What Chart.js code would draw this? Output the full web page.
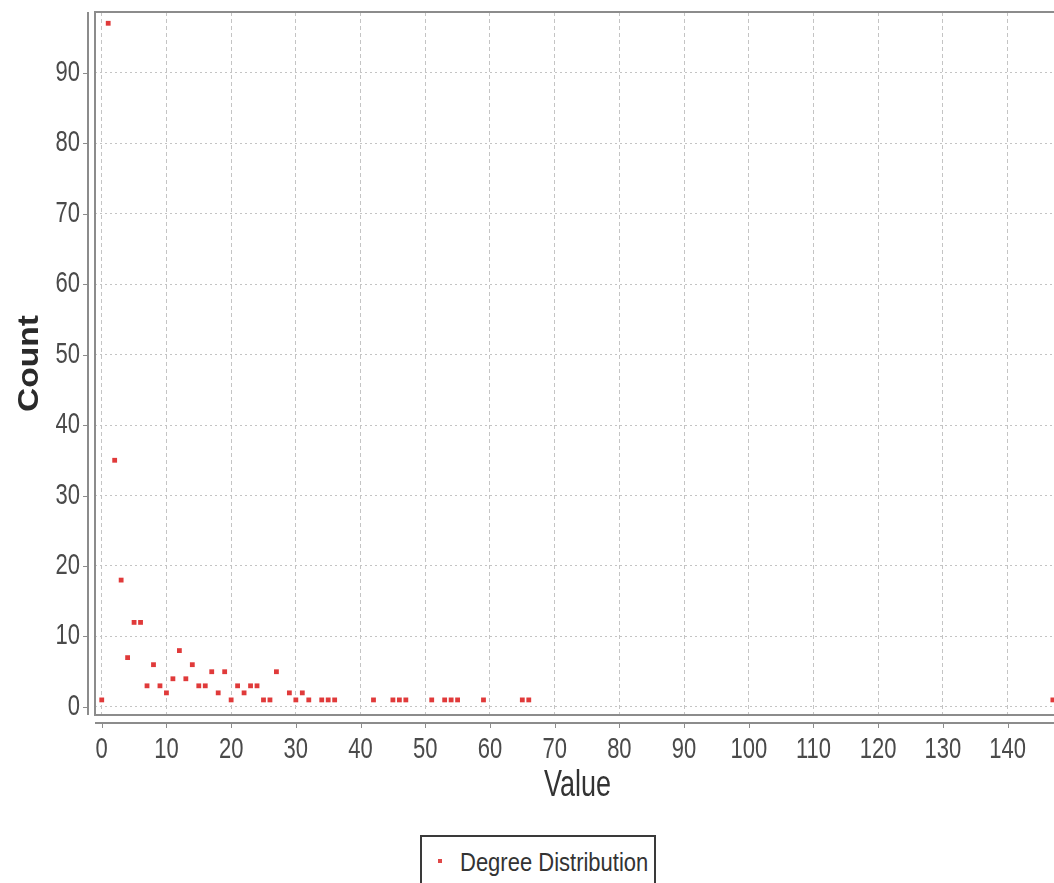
<!DOCTYPE html>
<html>
<head>
<meta charset="utf-8">
<script src="https://cdn.jsdelivr.net/npm/chart.js@4"></script>
<style>
	html, body { margin: 0; padding: 0; background: #fff; overflow: hidden; }
	#wrap { position: relative; width: 1054px; height: 883px; overflow: hidden; }
	#degreeChart { position: absolute; left: 0; top: 0; }
	#legend {
		position: absolute; left: 420px; top: 835px; width: 236px; height: 60px;
		border: 2px solid #3a3a3a; background: #fff; box-sizing: border-box;
		font-family: "Liberation Sans", Arial, sans-serif;
		font-size: 22px; color: #333;
	}
	#legend .mark { position: absolute; left: 16px; top: 22px; width: 4px; height: 4px; background: #e04848; }
	#legend .label {
		position: absolute; left: 38px; top: 11px; white-space: nowrap;
		transform: scaleY(1.15); transform-origin: 0 0;
	}
</style>
</head>
<body>
<div id="wrap">
	<canvas id="degreeChart" width="1080" height="883"></canvas>
	<div id="legend"><span class="mark"></span><span class="label">Degree Distribution</span></div>
</div>
<script>
const degreeValues = [0, 1, 2, 3, 4, 5, 6, 7, 8, 9, 10, 11, 12, 13, 14, 15, 16, 17, 18, 19, 20,
	21, 22, 23, 24, 25, 26, 27, 29, 30, 31, 32, 34, 35, 36, 42, 45, 46, 47, 51, 53, 54, 55,
	59, 65, 66, 147];
const degreeCounts = [1, 97, 35, 18, 7, 12, 12, 3, 6, 3, 2, 4, 8, 4, 6, 3, 3, 5, 2, 5, 1,
	3, 2, 3, 3, 1, 1, 5, 2, 1, 2, 1, 1, 1, 1, 1, 1, 1, 1, 1, 1, 1, 1,
	1, 1, 1, 1];
const xTickValues = [0, 10, 20, 30, 40, 50, 60, 70, 80, 90, 100, 110, 120, 130, 140];
const yTickValues = [0, 10, 20, 30, 40, 50, 60, 70, 80, 90];

const sansFamily = "'Liberation Sans', Arial, sans-serif";
const tickFont = { family: sansFamily, size: 22 };

// the original picture is stretched upward, so text is drawn taller than wide
const stretchByFont = [
	["bold 30px", [1.12, 1]],
	["22px", [1, 1.32]],
	["27px", [1, 1.35]],
];

const ctx = document.getElementById("degreeChart").getContext("2d");
const rawFillText = CanvasRenderingContext2D.prototype.fillText;
ctx.fillText = function (text, x, y, maxWidth) {
	const hit = stretchByFont.find(([key]) => this.font.includes(key));
	if (!hit) return rawFillText.call(this, text, x, y, maxWidth);
	this.save();
	this.translate(x, y);
	this.scale(hit[1][0], hit[1][1]);
	if (maxWidth === undefined) rawFillText.call(this, text, 0, 0);
	else rawFillText.call(this, text, 0, 0, maxWidth);
	this.restore();
};

// plot frame plus axis lines set a few px away from it
const framePlugin = {
	id: "frame",
	afterDraw(chart) {
		const { ctx, chartArea } = chart;
		const xs = chart.scales.x;
		const ys = chart.scales.y;
		ctx.save();
		ctx.strokeStyle = "#8c8c8c";
		ctx.lineWidth = 2;
		ctx.beginPath();
		ctx.moveTo(chartArea.right + 5, chartArea.top);
		ctx.lineTo(chartArea.left, chartArea.top);
		ctx.lineTo(chartArea.left, chartArea.bottom);
		ctx.lineTo(chartArea.right + 5, chartArea.bottom);
		ctx.moveTo(chartArea.left - 7, chartArea.top);
		ctx.lineTo(chartArea.left - 7, chartArea.bottom);
		ctx.moveTo(chartArea.left, chartArea.bottom + 8);
		ctx.lineTo(chartArea.right + 5, chartArea.bottom + 8);
		ctx.stroke();
		ctx.lineWidth = 1;
		ctx.beginPath();
		xTickValues.forEach((v) => {
			const px = Math.round(xs.getPixelForValue(v)) + 0.5;
			ctx.moveTo(px, chartArea.bottom + 8);
			ctx.lineTo(px, chartArea.bottom + 13);
		});
		yTickValues.forEach((v) => {
			const py = Math.round(ys.getPixelForValue(v)) + 0.5;
			ctx.moveTo(chartArea.left - 7, py);
			ctx.lineTo(chartArea.left - 12, py);
		});
		ctx.stroke();
		ctx.restore();
	},
};

const degreeChart = new Chart(ctx, {
	type: "scatter",
	data: {
		datasets: [
			{
				label: "Degree Distribution",
				data: degreeValues.map((v, i) => ({ x: v, y: degreeCounts[i] })),
				backgroundColor: "#e03a3a",
				borderColor: "#e03a3a",
				borderWidth: 0,
				pointStyle: "rect",
				pointRadius: 3.4,
			},
		],
	},
	options: {
		responsive: false,
		animation: false,
		devicePixelRatio: 1,
		layout: { padding: { top: 12, right: 20, bottom: 0, left: 0 } },
		plugins: {
			legend: { display: false },
			tooltip: { enabled: false },
		},
		scales: {
			x: {
				type: "linear",
				min: -1.04,
				max: 148.1,
				afterFit: (scale) => {
					scale.height = 168;
					scale.paddingLeft = 0;
					scale.paddingRight = 0;
				},
				afterBuildTicks: (scale) => { scale.ticks = xTickValues.map((v) => ({ value: v })); },
				grid: { color: "#c4c4c4", drawTicks: false },
				border: { display: false, dash: [4, 3] },
				ticks: { autoSkip: false, maxRotation: 0, padding: 22, color: "#4a4a4a", font: tickFont },
				title: {
					display: true,
					text: "Value",
					color: "#333333",
					font: { family: sansFamily, size: 27 },
					padding: { top: 0, bottom: 81 },
				},
			},
			y: {
				type: "linear",
				min: -1.14,
				max: 98.6,
				afterFit: (scale) => {
					scale.width = 95;
					scale.paddingTop = 0;
					scale.paddingBottom = 0;
				},
				afterBuildTicks: (scale) => { scale.ticks = yTickValues.map((v) => ({ value: v })); },
				grid: { color: "#c4c4c4", drawTicks: false },
				border: { display: false, dash: [2, 3] },
				ticks: { autoSkip: false, padding: 15, color: "#4a4a4a", font: tickFont },
				title: {
					display: true,
					text: "Count",
					color: "#2a2a2a",
					font: { family: sansFamily, size: 30, weight: "bold" },
					padding: { top: 12, bottom: 0 },
				},
			},
		},
	},
	plugins: [framePlugin],
});
</script>
</body>
</html>
